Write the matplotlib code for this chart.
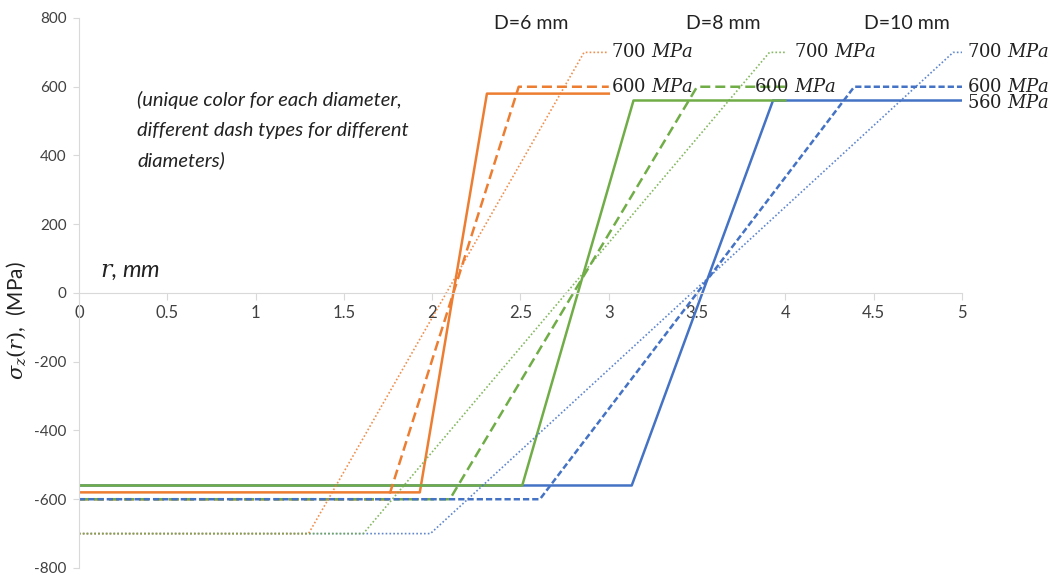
import matplotlib.pyplot as plt

plt.rcParams['mathtext.fontset'] = 'dejavuserif'
plt.rcParams['font.family'] = ['Lato', 'DejaVu Sans']
plt.rcParams['axes.unicode_minus'] = False

# stress profiles: x = r (mm), y = sigma_z (MPa)
d6_solid_x = [0, 1.93, 2.31, 3.0]
d6_solid_y = [-580, -580, 580, 580]
d6_dash_x = [0, 1.75, 2.49, 3.0]
d6_dash_y = [-600, -600, 600, 600]
d6_dot_x = [0, 1.30, 2.86, 3.0]
d6_dot_y = [-700, -700, 700, 700]

d8_solid_x = [0, 2.51, 3.14, 4.0]
d8_solid_y = [-560, -560, 560, 560]
d8_dash_x = [0, 2.10, 3.50, 4.0]
d8_dash_y = [-600, -600, 600, 600]
d8_dot_x = [0, 1.61, 3.91, 4.0]
d8_dot_y = [-700, -700, 700, 700]

d10_solid_x = [0, 3.13, 3.93, 5.0]
d10_solid_y = [-560, -560, 560, 560]
d10_dash_x = [0, 2.61, 4.39, 5.0]
d10_dash_y = [-600, -600, 600, 600]
d10_dot_x = [0, 1.99, 4.95, 5.0]
d10_dot_y = [-700, -700, 700, 700]

note_lines = ['(unique color for each diameter,',
              'different dash types for different',
              'diameters)']

orange = '#ED7D31'
green = '#70AD47'
blue = '#4472C4'

dot = (0, (1, 1.3))
dash = (0, (4, 2))
short_dash = (0, (2.5, 1.2))

fig = plt.figure(figsize=(10.57, 5.75), dpi=100)
ax = fig.add_axes([0.0747, 0.0122, 0.8354, 0.9565])

ax.plot(d10_solid_x, d10_solid_y, color=blue, lw=1.8)
ax.plot(d6_solid_x, d6_solid_y, color=orange, lw=1.8)
ax.plot(d8_solid_x, d8_solid_y, color=green, lw=1.8)

ax.plot(d6_dash_x, d6_dash_y, color=orange, lw=1.8, linestyle=dash)
ax.plot(d8_dash_x, d8_dash_y, color=green, lw=1.8, linestyle=dash)
ax.plot(d10_dash_x, d10_dash_y, color=blue, lw=1.8, linestyle=short_dash)

ax.plot(d10_dot_x, d10_dot_y, color=blue, lw=1.2, linestyle=dot, alpha=0.85)
ax.plot(d6_dot_x, d6_dot_y, color=orange, lw=1.2, linestyle=dot, alpha=0.85)
ax.plot(d8_dot_x, d8_dot_y, color=green, lw=1.2, linestyle=dot, alpha=0.85)

lab = dict(fontsize=13, family='DejaVu Serif', color='#222222', va='center')
ax.text(3.01, 700, r'700 $MPa$', **lab)
ax.text(3.01, 600, r'600 $MPa$', **lab)
ax.text(4.05, 700, r'700 $MPa$', **lab)
ax.text(3.82, 600, r'600 $MPa$', **lab)
ax.text(5.03, 700, r'700 $MPa$', **lab)
ax.text(5.03, 600, r'600 $MPa$', **lab)
ax.text(5.03, 552, r'560 $MPa$', **lab)

ax.text(2.56, 785, 'D=6 mm', fontsize=14, ha='center', va='center', color='#222222')
ax.text(3.65, 785, 'D=8 mm', fontsize=14, ha='center', va='center', color='#222222')
ax.text(4.69, 785, 'D=10 mm', fontsize=14, ha='center', va='center', color='#222222')

for i, line in enumerate(note_lines):
    ax.text(0.33, 561 - 87 * i, line, fontsize=14.5, style='italic', va='center', color='#222222')
ax.text(0.12, 62, r'$r$, mm', fontsize=17, style='italic', va='center', color='#222222')

ax.set_xlim(0, 5)
ax.set_ylim(-800, 800)
ax.set_xticks([0, 0.5, 1, 1.5, 2, 2.5, 3, 3.5, 4, 4.5, 5])
ax.set_xticklabels(['0', '0.5', '1', '1.5', '2', '2.5', '3', '3.5', '4', '4.5', '5'])
ax.set_yticks(range(-800, 801, 200))

ax.spines['top'].set_visible(False)
ax.spines['right'].set_visible(False)
ax.spines['bottom'].set_position(('data', 0))
ax.spines['bottom'].set_color('#d9d9d9')
ax.spines['left'].set_color('#d9d9d9')
ax.tick_params(axis='x', colors='#d9d9d9', labelcolor='#404040', labelsize=12, length=5, direction='out')
ax.tick_params(axis='y', colors='#d9d9d9', labelcolor='#404040', labelsize=11, length=4, pad=5)

ax.set_ylabel(r'$\sigma_z(r)$,  (MPa)', fontsize=15, color='#222222')
ax.yaxis.set_label_coords(-0.058, 0.45)

fig.savefig('out.png', dpi=100)
